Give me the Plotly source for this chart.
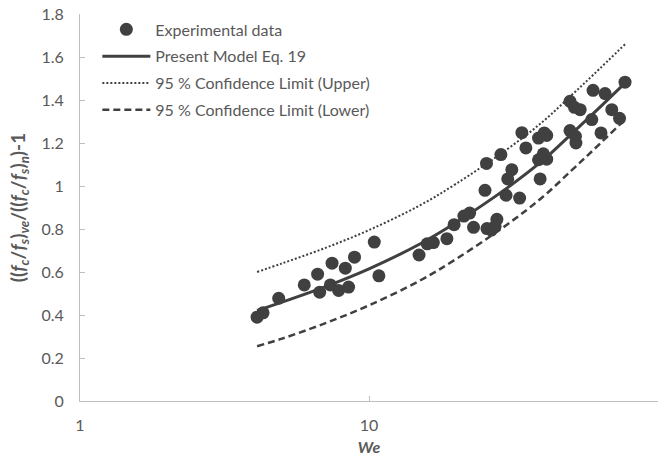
import plotly.graph_objects as go

# Experimental data (We, y)
exp_we = [4.1, 4.3, 4.87, 5.97, 6.64, 6.75, 7.45, 7.35, 7.85, 8.28, 8.5, 8.91,
          10.43, 10.82, 14.9, 15.9, 16.7, 18.6, 19.7, 21.3, 22.3, 23.0, 25.6,
          26.5, 27.7, 27.3, 25.2, 25.5, 28.6, 29.8, 31.2, 30.2, 33.2, 33.8,
          34.9, 38.6, 40.4, 41.2, 39.1, 38.6, 40.1, 41.2, 49.6, 51.8, 52.0,
          49.6, 51.4, 53.8, 59.6, 59.0, 65.6, 63.5, 69.2, 73.6, 76.9]
exp_y = [0.39, 0.41, 0.478, 0.54, 0.59, 0.506, 0.641, 0.54, 0.514, 0.618, 0.53, 0.669,
         0.739, 0.582, 0.679, 0.731, 0.737, 0.755, 0.82, 0.86, 0.874, 0.808, 0.802,
         0.795, 0.845, 0.812, 0.98, 1.105, 1.146, 0.957, 1.076, 1.033, 0.944, 1.248,
         1.177, 1.223, 1.247, 1.235, 1.033, 1.122, 1.15, 1.125, 1.258, 1.231, 1.20,
         1.394, 1.366, 1.355, 1.445, 1.309, 1.43, 1.247, 1.355, 1.315, 1.483]

# Curves
curve_we = [4.1, 5, 7, 10, 15, 20, 30, 40, 50, 60, 77]
model_y = [0.42, 0.46, 0.53, 0.615, 0.73, 0.83, 0.99, 1.12, 1.24, 1.34, 1.48]
upper_y = [0.60, 0.64, 0.71, 0.795, 0.91, 1.01, 1.17, 1.30, 1.42, 1.52, 1.66]
lower_y = [0.255, 0.29, 0.36, 0.445, 0.56, 0.66, 0.82, 0.95, 1.07, 1.17, 1.31]

x_ticks = [1, 10, 100]
y_ticks = [0, 0.2, 0.4, 0.6, 0.8, 1, 1.2, 1.4, 1.6, 1.8]

dark = "#404040"
txt = "#595959"
axc = "#bfbfbf"
FONT = "Lato"

fig = go.Figure()
fig.add_trace(go.Scatter(x=exp_we, y=exp_y, mode="markers", name="Experimental data",
                         marker=dict(size=13, color=dark), legendgroup="a"))
fig.add_trace(go.Scatter(x=curve_we, y=model_y, mode="lines", name="Present Model Eq. 19",
                         line=dict(color=dark, width=3, shape="spline"), legendgroup="b"))
fig.add_trace(go.Scatter(x=curve_we, y=upper_y, mode="lines", name="95 % Confidence Limit (Upper)",
                         line=dict(color=dark, width=2, dash="2px,2px", shape="spline"), legendgroup="c"))
fig.add_trace(go.Scatter(x=curve_we, y=lower_y, mode="lines", name="95 % Confidence Limit (Lower)",
                         line=dict(color=dark, width=2.5, dash="7px,4px", shape="spline"), legendgroup="d"))

ytitle = ("((<i>f</i><sub><i>c</i></sub>/<i>f</i><sub><i>s</i></sub>)<sub><i>ve</i></sub>/"
          "((<i>f</i><sub><i>c</i></sub>/<i>f</i><sub><i>s</i></sub>)<sub><i>n</i></sub>)-1")

fig.update_layout(
    width=671, height=460,
    margin=dict(l=80, r=13, t=14, b=59, autoexpand=False),
    paper_bgcolor="white", plot_bgcolor="white",
    font=dict(family=FONT, size=16, color=txt),
    showlegend=True,
    legend=dict(x=0.03, y=1.004, xanchor="left", yanchor="top",
                bgcolor="rgba(0,0,0,0)", font=dict(size=16, color=txt),
                tracegroupgap=3, itemwidth=48),
    xaxis=dict(type="log", range=[0, 2], tickvals=x_ticks, ticktext=[str(v) for v in x_ticks],
               showgrid=False, zeroline=False, showline=True, linecolor=axc, linewidth=1,
               ticks="inside", ticklen=5, tickcolor=axc, ticklabelstandoff=10, automargin=False,
               tickfont=dict(size=16, color=txt),
               title=dict(text="<b><i>We</i></b>", font=dict(size=16, color=txt), standoff=8)),
    yaxis=dict(range=[0, 1.8], tickvals=y_ticks,
               ticktext=["0", "0.2", "0.4", "0.6", "0.8", "1", "1.2", "1.4", "1.6", "1.8"],
               showgrid=False, zeroline=False, showline=True, linecolor=axc, linewidth=1,
               ticks="inside", ticklen=5, tickcolor=axc, ticklabelstandoff=12, automargin=False,
               tickfont=dict(size=16, color=txt),
               title=dict(text="<b>" + ytitle + "</b>", font=dict(size=19, color=txt), standoff=10)),
)

fig.write_html("out.html")
